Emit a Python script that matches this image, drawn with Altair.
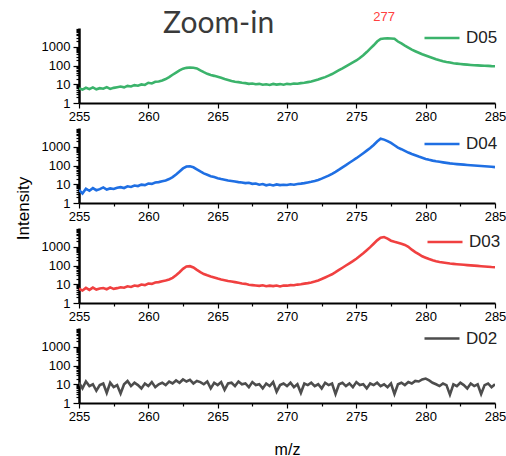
import altair as alt
import pandas as pd

# m/z sample grid: 255.00 to 285.00 in 0.25 steps (121 points)
mz = [255 + 0.25 * i for i in range(121)]

d05 = [6, 5.2, 6.5, 5.5, 6.8, 5.4, 6.2, 5.8, 7.0, 5.6, 6.4, 6.9,
       7.5, 6.8, 8.2, 7.6, 9.0, 8.4, 9.8, 9.2,
       12, 11, 13.5, 14, 16, 19, 24, 32,
       42, 55, 68, 75, 78, 76, 70, 55,
       44, 36, 31, 28, 25, 22, 19, 17,
       15, 13.5, 13, 12, 11.5, 10.5, 11, 10,
       10.5, 9.5, 10, 9.2, 10.4, 9.6, 10.2, 9.4,
       10.5, 10, 11, 10.6, 11.5, 12, 13, 14,
       16, 18, 21, 24, 29, 35, 44, 56,
       70, 90, 115, 145, 185, 250, 350, 520,
       800, 1200, 1900, 2600, 2750, 2800, 2780, 2650,
       1900, 1500, 1150, 900, 700, 580, 480, 400,
       340, 290, 250, 215, 190, 170, 155, 143,
       133, 126, 120, 115, 111, 107, 104, 101,
       99, 97, 95, 93, 92]

d04 = [5, 3.2, 5.8, 4.5, 6.2, 4.8, 5.5, 6.8, 5.2, 6.0, 5.6, 6.5,
       7.0, 6.3, 7.8, 7.2, 8.5, 8.0, 9.5, 9.0,
       11, 10.5, 12.5, 13, 14.5, 16, 19, 24,
       33, 48, 70, 88, 90, 80, 62, 48,
       38, 32, 27, 24, 21, 19, 17.5, 16,
       15, 14, 13, 12.5, 11.5, 12, 10.5, 11,
       9.5, 10.2, 8.8, 9.6, 8.6, 9.8, 9.0, 9.4,
       9.2, 10, 9.5, 10.4, 10.8, 11.5, 12.5, 13.5,
       15, 17, 20, 24, 29, 36, 46, 60,
       80, 105, 140, 185, 245, 330, 450, 620,
       860, 1250, 1900, 2700, 2400, 2000, 1600, 1200,
       900, 740, 600, 490, 410, 350, 300, 260,
       225, 200, 182, 168, 157, 147, 138, 130,
       124, 119, 115, 111, 107, 104, 100, 97,
       94, 91, 88, 85, 82]

d03 = [5.8, 4.6, 6.4, 5.0, 6.6, 5.2, 5.9, 6.3, 5.4, 6.8, 5.7, 6.2,
       6.9, 6.5, 7.8, 7.2, 8.6, 8.0, 9.6, 9.0,
       11, 10.5, 12.5, 13, 14.5, 16, 18, 22,
       30, 44, 66, 88, 92, 78, 58, 44,
       35, 30, 26, 23, 20, 18, 16.5, 15,
       14, 13, 12, 11, 10.5, 9.5, 9.0, 8.6,
       8.2, 8.8, 7.8, 8.4, 8.0, 8.6, 7.6, 8.5,
       8.4, 9.0, 8.8, 9.6, 10, 10.8, 11.5, 12.5,
       14, 16, 19, 23, 28, 34, 44, 58,
       76, 100, 130, 170, 230, 320, 450, 650,
       950, 1450, 2200, 3000, 3300, 2700, 2100, 1850,
       1650, 1450, 1250, 1000, 700, 520, 400, 310,
       260, 220, 190, 170, 155, 145, 136, 128,
       122, 117, 113, 109, 105, 101, 98, 95,
       92, 89, 86, 83, 81]

d02 = [12, 6, 14, 8, 10, 4.5, 9, 11, 3.5, 12, 7, 9,
       3.2, 10, 15, 8, 12, 9, 6, 11,
       8, 13, 7, 10, 12, 9, 14, 11,
       16, 12, 18, 14, 17, 11, 15, 13,
       10, 14, 6, 12, 9, 13, 5, 11,
       12, 8, 14, 10, 11, 7, 13, 9,
       10, 6, 11, 8, 13, 4, 9, 11,
       8, 12, 7, 10, 3.5, 11, 9, 12,
       8, 10, 6, 12, 9, 11, 3, 10,
       12, 8, 11, 7, 13, 9, 10, 6,
       11, 9, 12, 8, 10, 7, 11, 3,
       10, 12, 9, 13, 11, 15, 14, 18,
       20, 16, 12, 10, 8, 11, 9, 2.8,
       10, 8, 12, 9, 6, 11, 8, 10,
       3, 9, 11, 7, 10]

series_names = ["D05", "D04", "D03", "D02"]
series_values = [d05, d04, d03, d02]
series_colors = ["#3bb36b", "#1f6fe3", "#f04040", "#4d4d4d"]

x_ticks = [255 + 2.5 * i for i in range(13)]
y_ticks = [m * 10 ** e for e in range(4) for m in range(1, 10)]

peak_label = pd.DataFrame({"mz": [277], "intensity": [2750], "label": ["277"]})

FONT = "Liberation Sans"
W, H = 416, 75

legend_pos = [(344, -9), (344, -3), (347, -5), (344, -8.5)]


def panel(idx):
    name = series_names[idx]
    df = pd.DataFrame({"mz": mz, "intensity": series_values[idx], "series": name})
    last = idx == 3
    x_axis = alt.Axis(
        values=x_ticks,
        labelExpr="datum.value % 5 === 0 ? datum.label : ''",
        tickSize={"condition": {"test": "datum.value % 5 === 0", "value": 5}, "value": 3},
        tickColor="black", tickWidth=1.2,
        domainColor="black", domainWidth=2,
        labelFont=FONT, labelFontSize=13, labelColor="black",
        labelFlush=False, labelOverlap=False, labelPadding=2,
        grid=False,
        title="m/z" if last else None,
        titleFont=FONT, titleFontSize=16, titleFontWeight="normal", titleColor="black",
        titleX=W / 2, titleY=46, titleAlign="center", titleBaseline="middle",
    )
    y_axis_kwargs = dict(
        values=y_ticks,
        format="d",
        labelExpr="(datum.value == 1 || datum.value == 10 || datum.value == 100 || datum.value == 1000) ? datum.label : ''",
        tickSize={"condition": {"test": "datum.value == 1 || datum.value == 10 || datum.value == 100 || datum.value == 1000", "value": 6}, "value": 3},
        tickColor="black", tickWidth=1.2,
        domainColor="black", domainWidth=2.5,
        labelFont=FONT, labelFontSize=13, labelColor="black",
        labelFlush=False, labelOverlap=False, labelPadding=3,
        grid=False,
    )
    if idx == 1:
        y_axis = alt.Axis(
            title="Intensity", titleFont=FONT, titleFontSize=17, titleFontWeight="normal",
            titleColor="black", titleX=-56, titleY=80, titleAngle=270,
            titleAlign="center", titleBaseline="middle", **y_axis_kwargs)
    else:
        y_axis = alt.Axis(title=None, **y_axis_kwargs)

    lx, ly = legend_pos[idx]
    line = alt.Chart(df).mark_line(strokeWidth=2.6, clip=True, strokeJoin="miter").encode(
        x=alt.X("mz:Q", scale=alt.Scale(domain=[255, 285], nice=False, zero=False), axis=x_axis),
        y=alt.Y("intensity:Q", scale=alt.Scale(type="log", domain=[1, 10000], nice=False), axis=y_axis),
        color=alt.Color(
            "series:N",
            scale=alt.Scale(domain=[name], range=[series_colors[idx]]),
            legend=alt.Legend(
                orient="none", legendX=lx, legendY=ly, title=None,
                symbolType="stroke", symbolSize=1225, symbolStrokeWidth=2.5,
                labelFont=FONT, labelFontSize=17, labelColor="#222222",
                labelOffset=5, padding=0,
            ),
        ),
    )
    layers = [line]
    if idx == 0:
        txt = alt.Chart(peak_label).mark_text(
            color="#ff4040", font=FONT, fontSize=13, dy=-22, baseline="middle"
        ).encode(x="mz:Q", y="intensity:Q", text="label:N")
        layers.append(txt)
    ch = alt.layer(*layers).properties(width=W, height=H)
    if idx == 0:
        ch = ch.properties(title=alt.TitleParams(
            text="Zoom-in", anchor="start", dx=122, dy=46, font="Lato", fontSize=30,
            fontWeight="normal", color="#3a3a3a", baseline="alphabetic", offset=-6))
    return ch


chart = alt.vconcat(*[panel(i) for i in range(4)], spacing=25, bounds="flush").resolve_scale(
    color="independent"
).resolve_legend(color="independent").properties(
    autosize=alt.AutoSizeParams(type="none"),
    padding={"left": 79, "top": 28, "right": 11, "bottom": 428},
).configure_view(stroke=None)

chart.save("out.html", embed_options={"renderer": "svg", "actions": False})
